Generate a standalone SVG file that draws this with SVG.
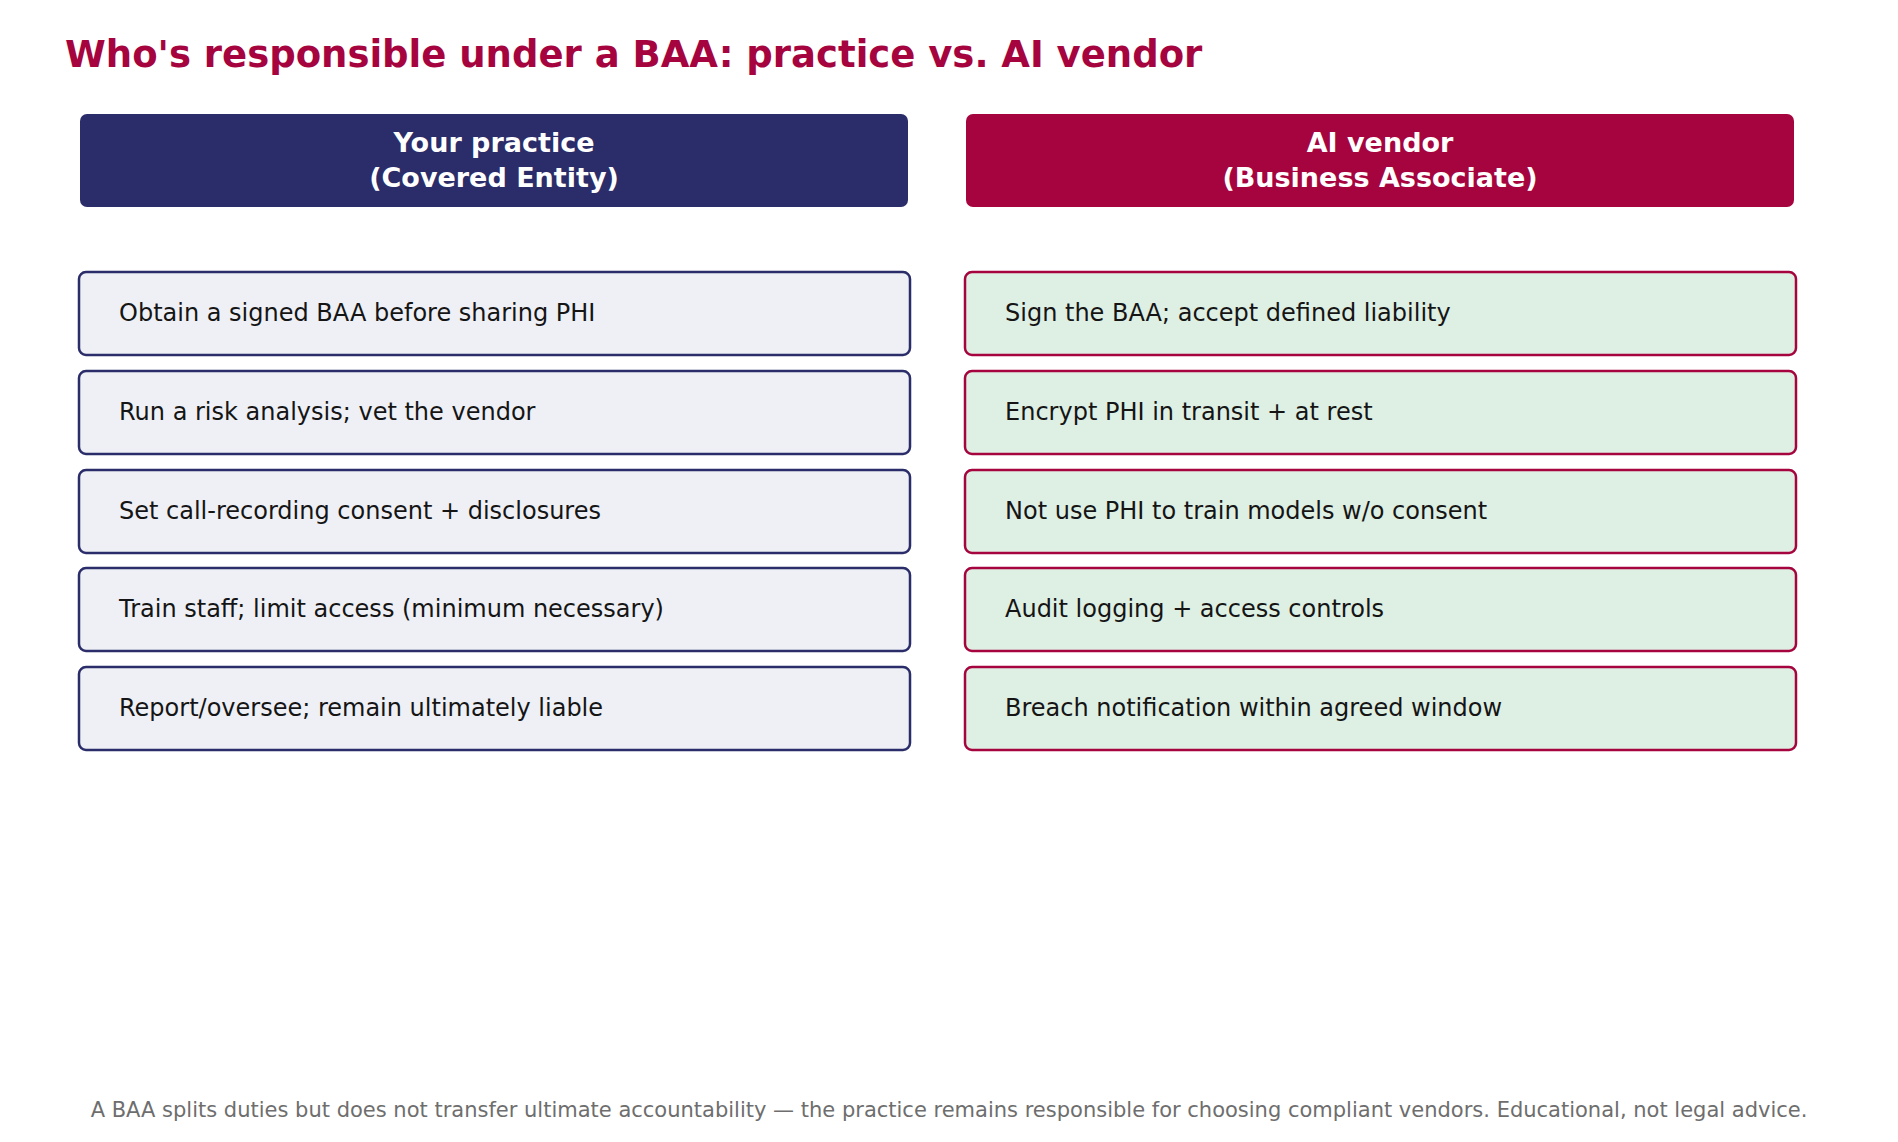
<svg xmlns="http://www.w3.org/2000/svg" width="1898" height="1142" viewBox="0 0 1898 1142">
<style>
text{font-family:"DejaVu Sans",sans-serif}
.t{font-size:37px;font-weight:bold;fill:#A6043E}
.h{font-size:27px;font-weight:bold;fill:#fff;text-anchor:middle}
.l rect{fill:#EEF0F5;stroke:#2B2D6A;stroke-width:2.5}
.r rect{fill:#DEEFE3;stroke:#A6043E;stroke-width:2.5}
.i{font-size:24px;fill:#151515}
.f{font-size:21px;fill:#6E6E6E;text-anchor:middle}
</style>
<rect width="1898" height="1142" fill="#fff"/>
<text class="t" x="65" y="67">Who's responsible under a BAA: practice vs. AI vendor</text>
<g id="hdr-practice"><rect x="80" y="114" width="828" height="93" rx="7" fill="#2B2D6A"/><text class="h" x="494" y="152">Your practice</text><text class="h" x="494" y="187">(Covered Entity)</text></g>
<g id="hdr-vendor"><rect x="966" y="114" width="828" height="93" rx="7" fill="#A6043E"/><text class="h" x="1380" y="152">AI vendor</text><text class="h" x="1380" y="187">(Business Associate)</text></g>
<g id="l1" class="l"><rect x="79" y="272" width="831" height="83" rx="7"/><text class="i" x="119" y="321">Obtain a signed BAA before sharing PHI</text></g>
<g id="l2" class="l"><rect x="79" y="371" width="831" height="83" rx="7"/><text class="i" x="119" y="420">Run a risk analysis; vet the vendor</text></g>
<g id="l3" class="l"><rect x="79" y="470" width="831" height="83" rx="7"/><text class="i" x="119" y="519">Set call-recording consent + disclosures</text></g>
<g id="l4" class="l"><rect x="79" y="568" width="831" height="83" rx="7"/><text class="i" x="119" y="617">Train staff; limit access (minimum necessary)</text></g>
<g id="l5" class="l"><rect x="79" y="667" width="831" height="83" rx="7"/><text class="i" x="119" y="716">Report/oversee; remain ultimately liable</text></g>
<g id="r1" class="r"><rect x="965" y="272" width="831" height="83" rx="7"/><text class="i" x="1005" y="321">Sign the BAA; accept defined liability</text></g>
<g id="r2" class="r"><rect x="965" y="371" width="831" height="83" rx="7"/><text class="i" x="1005" y="420">Encrypt PHI in transit + at rest</text></g>
<g id="r3" class="r"><rect x="965" y="470" width="831" height="83" rx="7"/><text class="i" x="1005" y="519">Not use PHI to train models w/o consent</text></g>
<g id="r4" class="r"><rect x="965" y="568" width="831" height="83" rx="7"/><text class="i" x="1005" y="617">Audit logging + access controls</text></g>
<g id="r5" class="r"><rect x="965" y="667" width="831" height="83" rx="7"/><text class="i" x="1005" y="716">Breach notification within agreed window</text></g>
<g id="connectors"/>
<text class="f" x="949" y="1117">A BAA splits duties but does not transfer ultimate accountability — the practice remains responsible for choosing compliant vendors. Educational, not legal advice.</text>
</svg>
